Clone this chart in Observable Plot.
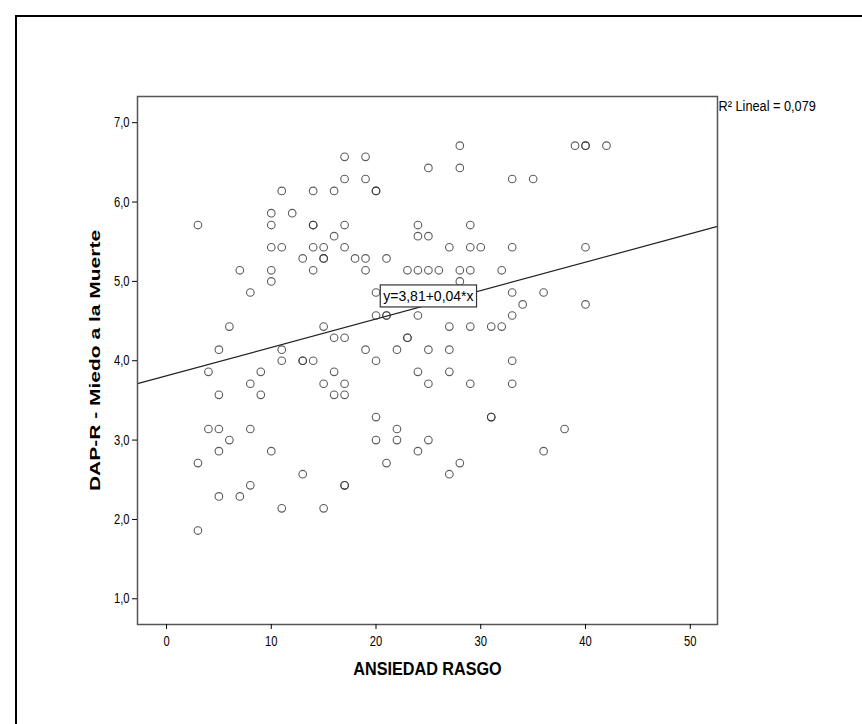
<!DOCTYPE html>
<html><head><meta charset="utf-8">
<script src="https://cdn.jsdelivr.net/npm/d3@7"></script>
<script src="https://cdn.jsdelivr.net/npm/@observablehq/plot@0.6"></script>
<style>
html,body{margin:0;padding:0;background:#fff;}
#wrap{position:relative;width:862px;height:724px;overflow:hidden;}
#chart{position:absolute;left:0;top:0;}
#border{position:absolute;left:15px;top:15px;width:1000px;height:1000px;border-left:2px solid #000;border-top:2px solid #000;z-index:2;pointer-events:none;}
</style></head><body>
<div id="wrap"><div id="chart"></div><div id="border"></div></div>
<script>
// ANSIEDAD RASGO (x) and DAP-R Miedo a la Muerte (y)
const ansiedad = [
  28, 39, 40, 40, 42,
  17, 19,
  25, 28,
  17, 19, 33, 35,
  11, 14, 16, 20, 20,
  10, 12,
  3, 10, 14, 14, 17, 24, 29,
  16, 24, 25,
  10, 11, 14, 15, 17, 27, 29, 30, 33, 40,
  13, 15, 15, 18, 19, 21,
  7, 10, 14, 19, 23, 24, 25, 26, 28, 29, 32,
  10, 28,
  8, 20, 33, 36,
  34, 40,
  20, 21, 21, 24, 33,
  6, 15, 27, 29, 31, 32,
  16, 17, 23, 23,
  5, 11, 19, 22, 25, 27,
  11, 13, 13, 14, 20, 33,
  4, 9, 16, 24, 27,
  8, 15, 17, 25, 29, 33,
  5, 9, 16, 17,
  20, 31, 31,
  4, 5, 8, 22, 38,
  6, 20, 22, 25,
  5, 10, 24, 36,
  3, 21, 28,
  13, 27,
  8, 17, 17,
  5, 7,
  11, 15,
  3
];
const miedo = [
  6.71, 6.71, 6.71, 6.71, 6.71,
  6.57, 6.57,
  6.43, 6.43,
  6.29, 6.29, 6.29, 6.29,
  6.14, 6.14, 6.14, 6.14, 6.14,
  5.86, 5.86,
  5.71, 5.71, 5.71, 5.71, 5.71, 5.71, 5.71,
  5.57, 5.57, 5.57,
  5.43, 5.43, 5.43, 5.43, 5.43, 5.43, 5.43, 5.43, 5.43, 5.43,
  5.29, 5.29, 5.29, 5.29, 5.29, 5.29,
  5.14, 5.14, 5.14, 5.14, 5.14, 5.14, 5.14, 5.14, 5.14, 5.14, 5.14,
  5.00, 5.00,
  4.86, 4.86, 4.86, 4.86,
  4.71, 4.71,
  4.57, 4.57, 4.57, 4.57, 4.57,
  4.43, 4.43, 4.43, 4.43, 4.43, 4.43,
  4.29, 4.29, 4.29, 4.29,
  4.14, 4.14, 4.14, 4.14, 4.14, 4.14,
  4.00, 4.00, 4.00, 4.00, 4.00, 4.00,
  3.86, 3.86, 3.86, 3.86, 3.86,
  3.71, 3.71, 3.71, 3.71, 3.71, 3.71,
  3.57, 3.57, 3.57, 3.57,
  3.29, 3.29, 3.29,
  3.14, 3.14, 3.14, 3.14, 3.14,
  3.00, 3.00, 3.00, 3.00,
  2.86, 2.86, 2.86, 2.86,
  2.71, 2.71, 2.71,
  2.57, 2.57,
  2.43, 2.43, 2.43,
  2.29, 2.29,
  2.14, 2.14,
  1.86
];
const xTicks = [0, 10, 20, 30, 40, 50];
const yTicks = [1, 2, 3, 4, 5, 6, 7];
const xDomain = [-2.77, 52.6];
const yDomain = [0.676, 7.33];
const fitIntercept = 3.81;
const fitSlope = 0.0358;
const eqLabel = "y=3,81+0,04*x";
const eqAt = {x: 25, y: 4.81};
const r2Label = "R\u00B2 Lineal = 0,079";
const xTitle = "ANSIEDAD RASGO";
const yTitle = "DAP-R - Miedo a la Muerte";

const points = ansiedad.map((x, i) => ({x, y: miedo[i]}));
const fitLine = xDomain.map(x => ({x, y: fitIntercept + fitSlope * x}));
const yFmt = d => d.toFixed(1).replace(".", ",");

const chart = Plot.plot({
  width: 862,
  height: 724,
  marginLeft: 137,
  marginRight: 145,
  marginTop: 96,
  marginBottom: 100,
  style: {fontFamily: "'Liberation Sans', Arial, sans-serif", fontSize: "14px", color: "#000", background: "#fff"},
  x: {domain: xDomain},
  y: {domain: yDomain},
  marks: [
    Plot.line(fitLine, {x: "x", y: "y", stroke: "#222", strokeWidth: 1.2}),
    Plot.dot(points, {x: "x", y: "y", r: 3.8, fill: "none", stroke: "#333", strokeWidth: 1.1, strokeOpacity: 0.8}),
    Plot.frame({stroke: "#555", strokeWidth: 1.5}),
    Plot.axisX({ticks: xTicks, tickSize: 5, tickPadding: 7, label: null, fontSize: 14}),
    Plot.axisY({ticks: yTicks, tickSize: 5, tickPadding: 3, label: null, fontSize: 14, tickFormat: yFmt}),
    Plot.text([yTitle], {frameAnchor: "left", dx: -42, rotate: -90, textAnchor: "middle", lineAnchor: "middle", fontWeight: "bold", fontSize: 21}),
    Plot.text([xTitle], {frameAnchor: "bottom", dy: 45, lineAnchor: "middle", fontWeight: "bold", fontSize: 18}),
    Plot.text([r2Label], {frameAnchor: "top-right", textAnchor: "start", lineAnchor: "middle", dx: 1, dy: 10, fontSize: 15}),
    Plot.text([eqAt], {x: "x", y: "y", text: () => eqLabel, fontSize: 14})
  ]
});
document.getElementById("chart").appendChild(chart);

const NS = "http://www.w3.org/2000/svg";
// horizontally condense a text element around its anchor
function squeeze(el, s, anchor) {
  const g = document.createElementNS(NS, "g");
  el.parentNode.insertBefore(g, el);
  g.appendChild(el);
  const bb = g.getBBox();
  const cx = anchor === "end" ? bb.x + bb.width : anchor === "start" ? bb.x : bb.x + bb.width / 2;
  g.setAttribute("transform", `translate(${cx},0) scale(${s},1) translate(${-cx},0)`);
}
const xTickLabels = new Set(xTicks.map(String));
const yTickLabels = new Set(yTicks.map(yFmt));
for (const t of [...chart.querySelectorAll("text")]) {
  const s = t.textContent;
  if (xTickLabels.has(s)) squeeze(t, 0.8, "middle");
  else if (yTickLabels.has(s)) squeeze(t, 0.8, "end");
  else if (s === xTitle) squeeze(t, 0.9, "middle");
  else if (s === yTitle) squeeze(t, 0.72, "middle");
  else if (s === r2Label) squeeze(t, 0.85, "start");
}

// white box with border behind the equation label
const eqText = [...chart.querySelectorAll("text")].find(t => t.textContent === eqLabel);
if (eqText) {
  const bb = eqText.getBBox();
  const rect = document.createElementNS(NS, "rect");
  rect.setAttribute("x", bb.x - 3);
  rect.setAttribute("y", bb.y - 3);
  rect.setAttribute("width", bb.width + 6);
  rect.setAttribute("height", bb.height + 6);
  rect.setAttribute("fill", "#fff");
  rect.setAttribute("stroke", "#333");
  rect.setAttribute("stroke-width", "1.2");
  const tr = eqText.getAttribute("transform");
  if (tr) rect.setAttribute("transform", tr);
  eqText.parentNode.insertBefore(rect, eqText);
}
</script>
</body></html>
